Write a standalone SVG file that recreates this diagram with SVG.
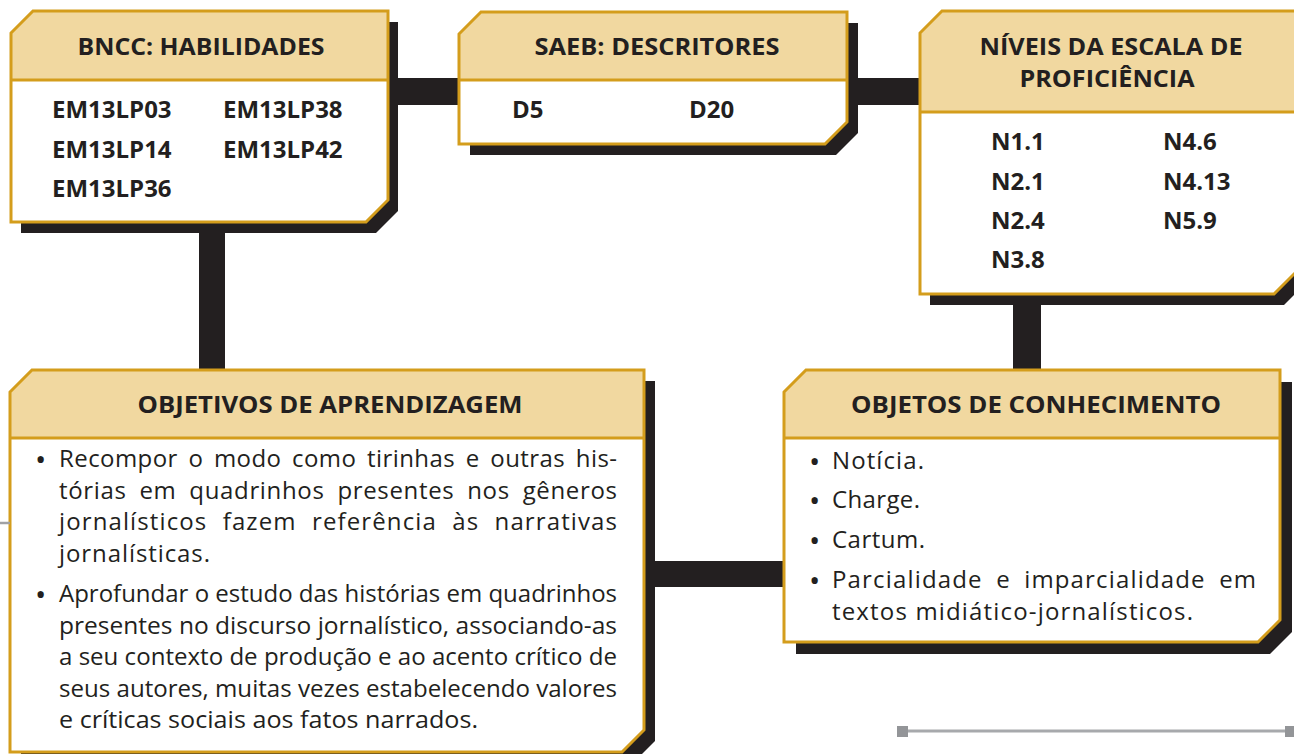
<svg xmlns="http://www.w3.org/2000/svg" width="1294" height="754" viewBox="0 0 1294 754">
<defs>
<style>
.sh{fill:#231f20}
.hd{fill:#f1d8a0}
.bd{fill:#ffffff}
.ol{fill:none;stroke:#d49d1c;stroke-width:3;stroke-linejoin:miter}
.con{fill:#231f20}
text{font-family:'Open Sans','Noto Sans','DejaVu Sans',sans-serif;fill:#231f20}
.h{font-size:24px;font-weight:700;text-anchor:middle}
.c{font-size:24px;font-weight:700}
.t{font-size:24px;font-weight:400}
.b{font-size:30px;font-weight:400}
</style>
</defs>
<rect width="1294" height="754" fill="#ffffff"/>
<g id="connectors">
<rect class="con" x="380" y="78" width="90" height="27"/>
<rect class="con" x="840" y="78" width="90" height="27"/>
<rect class="con" x="199" y="215" width="26" height="163"/>
<rect class="con" x="1013" y="288" width="28" height="90"/>
<rect class="con" x="640" y="561" width="150" height="26"/>
</g>
<g id="bncc">
<path class="sh" transform="translate(10,11)" d="M11,33 L33,11 L388,11 L388,200 L366,222 L11,222 Z"/>
<path class="bd" d="M11,33 L33,11 L388,11 L388,200 L366,222 L11,222 Z"/>
<path class="hd" d="M11,33 L33,11 L388,11 L388,80 L11,80 Z"/>
<path class="ol" d="M11,33 L33,11 L388,11 L388,200 L366,222 L11,222 Z M11,80 L388,80"/>
<text class="h" x="201" y="55" textLength="247" lengthAdjust="spacingAndGlyphs">BNCC: HABILIDADES</text>
<text class="c" x="52" y="118">EM13LP03</text>
<text class="c" x="52" y="158">EM13LP14</text>
<text class="c" x="52" y="197">EM13LP36</text>
<text class="c" x="223" y="118">EM13LP38</text>
<text class="c" x="223" y="158">EM13LP42</text>
</g>
<g id="saeb">
<path class="sh" transform="translate(11,11)" d="M459,34 L481,12 L847,12 L847,122 L825,144 L459,144 Z"/>
<path class="bd" d="M459,34 L481,12 L847,12 L847,122 L825,144 L459,144 Z"/>
<path class="hd" d="M459,34 L481,12 L847,12 L847,80 L459,80 Z"/>
<path class="ol" d="M459,34 L481,12 L847,12 L847,122 L825,144 L459,144 Z M459,80 L847,80"/>
<text class="h" x="657" y="55" textLength="245" lengthAdjust="spacingAndGlyphs">SAEB: DESCRITORES</text>
<text class="c" x="512" y="118">D5</text>
<text class="c" x="689" y="118">D20</text>
</g>
<g id="niveis">
<path class="sh" transform="translate(10,11)" d="M920,33 L942,11 L1296,11 L1296,272 L1274,294 L920,294 Z"/>
<path class="bd" d="M920,33 L942,11 L1296,11 L1296,272 L1274,294 L920,294 Z"/>
<path class="hd" d="M920,33 L942,11 L1296,11 L1296,112 L920,112 Z"/>
<path class="ol" d="M920,33 L942,11 L1296,11 L1296,272 L1274,294 L920,294 Z M920,112 L1296,112"/>
<text class="h" x="1111" y="55" textLength="263" lengthAdjust="spacingAndGlyphs">NÍVEIS DA ESCALA DE</text>
<text class="h" x="1107" y="87" textLength="175" lengthAdjust="spacingAndGlyphs">PROFICIÊNCIA</text>
<text class="c" x="991" y="150">N1.1</text>
<text class="c" x="991" y="190">N2.1</text>
<text class="c" x="991" y="229">N2.4</text>
<text class="c" x="991" y="268">N3.8</text>
<text class="c" x="1163" y="150">N4.6</text>
<text class="c" x="1163" y="190">N4.13</text>
<text class="c" x="1163" y="229">N5.9</text>
</g>
<g id="objetivos">
<path class="sh" transform="translate(11,11)" d="M10,392 L32,370 L644,370 L644,730 L622,752 L10,752 Z"/>
<path class="bd" d="M10,392 L32,370 L644,370 L644,730 L622,752 L10,752 Z"/>
<path class="hd" d="M10,392 L32,370 L644,370 L644,438 L10,438 Z"/>
<path class="ol" d="M10,392 L32,370 L644,370 L644,730 L622,752 L10,752 Z M10,438 L644,438"/>
<text class="h" x="330" y="413" textLength="385" lengthAdjust="spacingAndGlyphs">OBJETIVOS DE APRENDIZAGEM</text>
<text class="b" x="35" y="470">•</text>
<text class="t" x="59" y="467" word-spacing="4" textLength="558" lengthAdjust="spacing">Recompor o modo como tirinhas e outras his-</text>
<text class="t" x="59" y="498.5" word-spacing="6" textLength="558" lengthAdjust="spacing">tórias em quadrinhos presentes nos gêneros</text>
<text class="t" x="59" y="530" word-spacing="8" textLength="558" lengthAdjust="spacing">jornalísticos fazem referência às narrativas</text>
<text class="t" x="59" y="561.5" textLength="151" lengthAdjust="spacing">jornalísticas.</text>
<text class="b" x="35" y="605">•</text>
<text class="t" x="59" y="602" textLength="558" lengthAdjust="spacingAndGlyphs">Aprofundar o estudo das histórias em quadrinhos</text>
<text class="t" x="59" y="633.5" textLength="558" lengthAdjust="spacingAndGlyphs">presentes no discurso jornalístico, associando-as</text>
<text class="t" x="59" y="665" textLength="558" lengthAdjust="spacingAndGlyphs">a seu contexto de produção e ao acento crítico de</text>
<text class="t" x="59" y="696.5" textLength="558" lengthAdjust="spacingAndGlyphs">seus autores, muitas vezes estabelecendo valores</text>
<text class="t" x="59" y="728" textLength="419" lengthAdjust="spacingAndGlyphs">e críticas sociais aos fatos narrados.</text>
</g>
<g id="objetos">
<path class="sh" transform="translate(12,12)" d="M784,392 L806,370 L1280,370 L1280,620 L1258,642 L784,642 Z"/>
<path class="bd" d="M784,392 L806,370 L1280,370 L1280,620 L1258,642 L784,642 Z"/>
<path class="hd" d="M784,392 L806,370 L1280,370 L1280,438 L784,438 Z"/>
<path class="ol" d="M784,392 L806,370 L1280,370 L1280,620 L1258,642 L784,642 Z M784,438 L1280,438"/>
<text class="h" x="1036" y="413" textLength="370" lengthAdjust="spacingAndGlyphs">OBJETOS DE CONHECIMENTO</text>
<text class="b" x="809" y="472">•</text>
<text class="t" x="832" y="469" textLength="92" lengthAdjust="spacing">Notícia.</text>
<text class="b" x="809" y="511">•</text>
<text class="t" x="832" y="508" textLength="88" lengthAdjust="spacing">Charge.</text>
<text class="b" x="809" y="551">•</text>
<text class="t" x="832" y="548" textLength="93" lengthAdjust="spacing">Cartum.</text>
<text class="b" x="809" y="591">•</text>
<text class="t" x="832" y="588" word-spacing="6" textLength="424" lengthAdjust="spacing">Parcialidade e imparcialidade em</text>
<text class="t" x="832" y="620" textLength="361" lengthAdjust="spacing">textos midiático-jornalísticos.</text>
</g>
<g id="page-marks">
<line x1="0" y1="523" x2="10" y2="523" stroke="#a0a1a4" stroke-width="2.5"/>
<line x1="905" y1="731" x2="1288" y2="731" stroke="#a7a9ac" stroke-width="3"/>
<rect x="897" y="726" width="11" height="11" fill="#939598"/>
<rect x="1285" y="726" width="11" height="11" fill="#939598"/>
</g>
</svg>
